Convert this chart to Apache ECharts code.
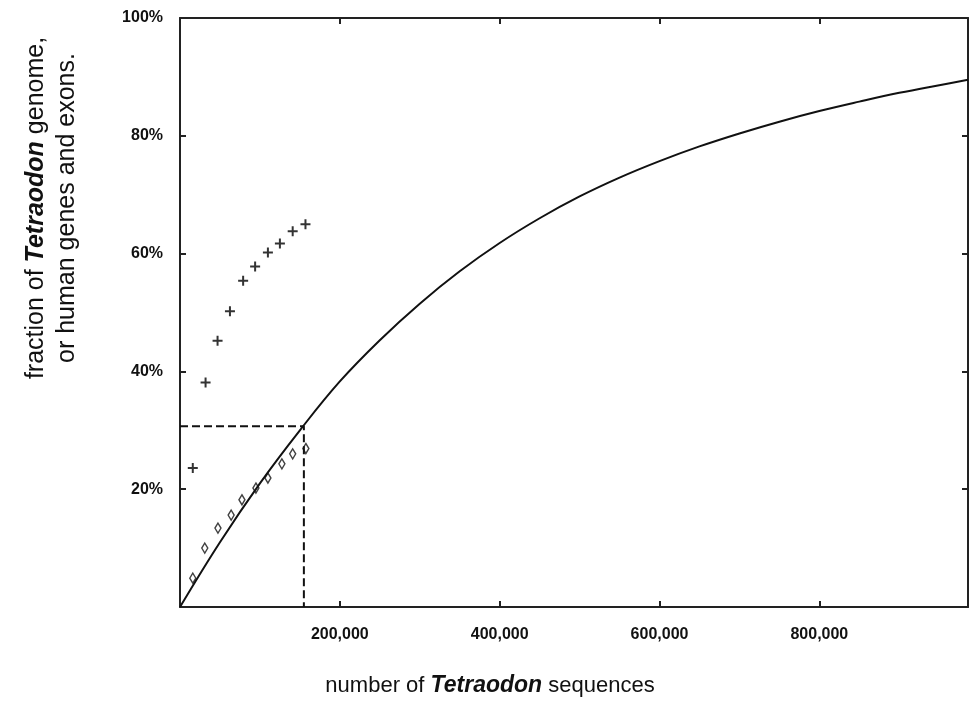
<!DOCTYPE html>
<html>
<head>
<meta charset="utf-8">
<script src="https://cdn.jsdelivr.net/npm/echarts@6/dist/echarts.min.js"></script>
<style>
  html, body { margin: 0; padding: 0; background: #fff; }
  #chart { width: 971px; height: 705px; }
</style>
</head>
<body>
<div id="chart"></div>
<script>
  // fitted curve
  const curveX = [0, 50000, 100000, 150000, 200000, 250000, 300000, 350000, 400000, 450000,
    500000, 550000, 600000, 650000, 700000, 750000, 800000, 850000, 900000, 950000, 986000];
  const curveY = [0, 11, 21, 30, 38.3, 45.3, 51.5, 57, 61.8, 66,
    69.7, 72.9, 75.7, 78.2, 80.4, 82.4, 84.2, 85.8, 87.3, 88.6, 89.5];

  // "+" markers (human genes / exons)
  const plusX = [16000, 32000, 47000, 62500, 79000, 94000, 110000, 125000, 141000, 157000];
  const plusY = [23.6, 38.1, 45.2, 50.2, 55.4, 57.8, 60.2, 61.7, 63.8, 65.0];

  // diamond markers (Tetraodon genome)
  const diamondX = [16000, 31000, 47500, 64000, 77500, 95000, 110000, 127500, 141000, 157500];
  const diamondY = [4.9, 10.0, 13.4, 15.6, 18.2, 20.2, 21.9, 24.3, 26.0, 26.9];

  // dashed guide
  const guideX = [0, 155000, 155000];
  const guideY = [30.7, 30.7, 0];

  const xTicks = [200000, 400000, 600000, 800000];
  const yTicks = [20, 40, 60, 80, 100];

  const zip = (xs, ys) => xs.map((x, i) => [x, ys[i]]);
  const fmtNum = (v) => String(v).replace(/\B(?=(\d{3})+(?!\d))/g, ',');

  const chart = echarts.init(document.getElementById('chart'));
  const axisLine = { show: true, onZero: false, lineStyle: { color: '#222', width: 2 } };
  const tick = { show: true, inside: true, length: 6, lineStyle: { color: '#222', width: 2 } };
  const labelFont = { fontFamily: 'Liberation Sans, Arial, sans-serif', fontWeight: 'bold', fontSize: 16, color: '#111' };

  const plusPath = 'path://M4,0h2v4h4v2h-4v4h-2v-4h-4v-2h4z';

  const options = {
    animation: false,
    grid: { left: 180, top: 18, right: 2, bottom: 98, containLabel: false },
    xAxis: [
      {
        type: 'value', min: 0, max: 986000, interval: 200000,
        axisLine: axisLine, axisTick: tick, splitLine: { show: false },
        axisLabel: Object.assign({
          margin: 20,
          formatter: (v) => xTicks.indexOf(v) >= 0 ? fmtNum(v) : ''
        }, labelFont)
      },
      {
        type: 'value', position: 'top', min: 0, max: 986000, interval: 200000,
        axisLine: axisLine, axisTick: tick, splitLine: { show: false },
        axisLabel: { show: false }
      }
    ],
    yAxis: [
      {
        type: 'value', min: 0, max: 100, interval: 20,
        axisLine: axisLine, axisTick: tick, splitLine: { show: false },
        axisLabel: Object.assign({
          margin: 17,
          formatter: (v) => yTicks.indexOf(v) >= 0 ? v + '%' : ''
        }, labelFont)
      },
      {
        type: 'value', position: 'right', min: 0, max: 100, interval: 20,
        axisLine: axisLine, axisTick: tick, splitLine: { show: false },
        axisLabel: { show: false }
      }
    ],
    series: [
      {
        name: 'curve', type: 'line', smooth: 0.4, showSymbol: false,
        data: zip(curveX, curveY),
        lineStyle: { color: '#111', width: 2 }
      },
      {
        name: 'guide', type: 'line', showSymbol: false,
        data: zip(guideX, guideY),
        lineStyle: { color: '#111', width: 2, type: [8, 4] }
      },
      {
        name: 'plus', type: 'scatter', symbol: plusPath, symbolSize: 10,
        data: zip(plusX, plusY),
        itemStyle: { color: '#000' }
      },
      {
        name: 'diamond', type: 'scatter', symbol: 'diamond', symbolSize: [6, 10],
        data: zip(diamondX, diamondY),
        itemStyle: { color: '#fff', borderColor: '#111', borderWidth: 1.5 }
      }
    ],
    graphic: [
      {
        type: 'text', x: 36, y: 208, rotation: Math.PI / 2,
        style: {
          text: '{n|fraction of }{b|Tetraodon}{n| genome,}',
          align: 'center', verticalAlign: 'middle',
          rich: {
            n: { fontFamily: 'Liberation Sans, Arial, sans-serif', fontSize: 25, fill: '#111' },
            b: { fontFamily: 'Liberation Sans, Arial, sans-serif', fontSize: 25, fontWeight: 'bold', fontStyle: 'italic', fill: '#111' }
          }
        }
      },
      {
        type: 'text', x: 67, y: 208, rotation: Math.PI / 2,
        style: {
          text: 'or human genes and exons.',
          align: 'center', verticalAlign: 'middle',
          fontFamily: 'Liberation Sans, Arial, sans-serif', fontSize: 25, fill: '#111'
        }
      },
      {
        type: 'text', x: 490, y: 686,
        style: {
          text: '{n|number of }{b|Tetraodon}{n| sequences}',
          align: 'center', verticalAlign: 'middle',
          rich: {
            n: { fontFamily: 'Liberation Sans, Arial, sans-serif', fontSize: 22, fill: '#111' },
            b: { fontFamily: 'Liberation Sans, Arial, sans-serif', fontSize: 23, fontWeight: 'bold', fontStyle: 'italic', fill: '#111' }
          }
        }
      }
    ]
  };
  chart.setOption(options);
</script>
</body>
</html>
